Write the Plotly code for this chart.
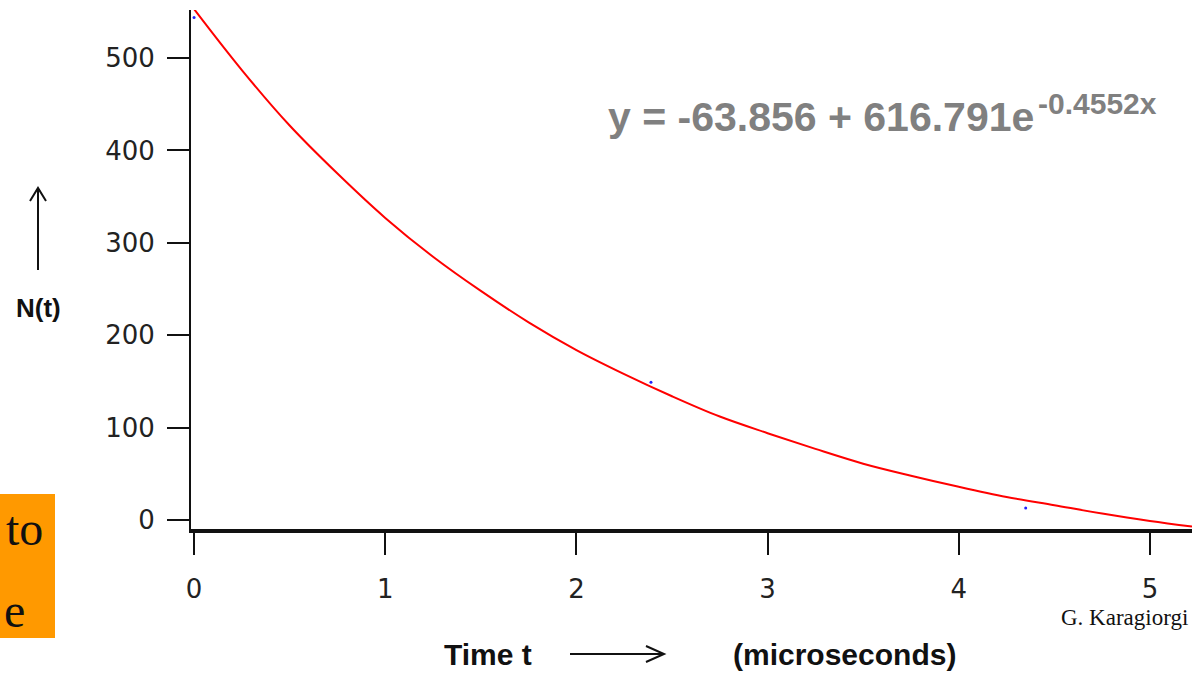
import plotly.graph_objects as go

# Fitted curve (time in microseconds, counts)
curve_t = [0.0, 0.25, 0.5, 0.75, 1.0, 1.25, 1.5, 1.75, 2.0, 2.25, 2.5, 2.75,
           3.0, 3.25, 3.5, 3.75, 4.0, 4.25, 4.5, 4.75, 5.0, 5.22]
curve_n = [553, 487, 427, 375, 327, 285, 248, 214, 184, 158, 134, 112,
           94, 77, 61, 48, 36, 25, 16, 7, -1, -7]

# Measured data points (small blue dots)
data_t = [0.0, 2.39, 4.35]
data_n = [544, 149, 13]

x_ticks = [0, 1, 2, 3, 4, 5]
y_ticks = [0, 100, 200, 300, 400, 500]

W, H = 1198, 673
L, R, T, B = 191, 6, 10, 144
# reference-pixel -> paper mapping (plot area spans x 191..1192, y 10..529)
X0, X1, Y0, Y1 = 191, 1192, 10, 529


def px(x):
    return (x - X0) / (X1 - X0)


def py(y):
    return (Y1 - y) / (Y1 - Y0)


fig = go.Figure()
fig.add_trace(go.Scatter(x=curve_t, y=curve_n, mode="lines",
                         line=dict(color="#ff0000", width=2, shape="spline"),
                         showlegend=False, hoverinfo="skip"))
fig.add_trace(go.Scatter(x=data_t, y=data_n, mode="markers",
                         marker=dict(color="#2020ff", size=3),
                         showlegend=False))

tick_font = dict(family="DejaVu Sans", size=26, color="#222222")
fig.update_xaxes(range=[-0.016, 5.22], tickvals=x_ticks, ticks="outside",
                 ticklen=22, tickwidth=2, tickcolor="#111", showline=True,
                 linewidth=4, linecolor="#111", showgrid=False, zeroline=False,
                 tickfont=tick_font, ticklabelstandoff=12)
fig.update_yaxes(range=[-9.7, 552], tickvals=y_ticks, ticks="outside",
                 ticklen=22, tickwidth=2, tickcolor="#111", showline=True,
                 linewidth=2, linecolor="#111", showgrid=False, zeroline=False,
                 tickfont=tick_font, ticklabelstandoff=7)

shapes = [
    dict(type="rect", xref="paper", yref="paper", x0=px(-10), x1=px(55),
         y0=py(638), y1=py(494), fillcolor="#FF9900", line=dict(width=0),
         layer="below"),
    # vertical arrow above N(t)
    dict(type="path", xref="paper", yref="paper",
         path=f"M {px(38)},{py(270)} L {px(38)},{py(188)} "
              f"M {px(30)},{py(201)} L {px(38)},{py(188)} L {px(46)},{py(201)}",
         line=dict(color="#111", width=2)),
    # horizontal arrow after Time t
    dict(type="path", xref="paper", yref="paper",
         path=f"M {px(570)},{py(654)} L {px(664)},{py(654)} "
              f"M {px(646)},{py(646)} L {px(664)},{py(654)} L {px(646)},{py(662)}",
         line=dict(color="#111", width=2)),
]


def ann(text, x, y, size, family="Liberation Sans", color="#111",
        xanchor="center", yanchor="middle"):
    return dict(x=px(x), y=py(y), xref="paper", yref="paper",
                xanchor=xanchor, yanchor=yanchor, showarrow=False, text=text,
                font=dict(family=family, size=size, color=color))


annotations = [
    ann("<b>y = -63.856 + 616.791e</b>", 1036, 117, 41, color="#808080",
        xanchor="right"),
    ann("<b>-0.4552x</b>", 1036, 104, 30, color="#808080", xanchor="left"),
    ann("<b>N(t)</b>", 38, 308, 26),
    ann("<b>Time t</b>", 488, 654, 30),
    ann("<b>(microseconds)</b>", 844, 654, 30),
    ann("G. Karagiorgi", 1124, 617, 23, family="Liberation Serif"),
    ann("to", 4, 528, 48, family="Liberation Serif", xanchor="left"),
    ann("e", 2, 610, 48, family="Liberation Serif", xanchor="left"),
]

fig.update_layout(width=W, height=H, margin=dict(l=L, r=R, t=T, b=B),
                  plot_bgcolor="white", paper_bgcolor="white",
                  shapes=shapes, annotations=annotations, showlegend=False)

fig.write_html("out.html",
               config={"displayModeBar": False},
               post_script="document.body.style.margin='0';"
                           "document.body.style.overflow='hidden';")
